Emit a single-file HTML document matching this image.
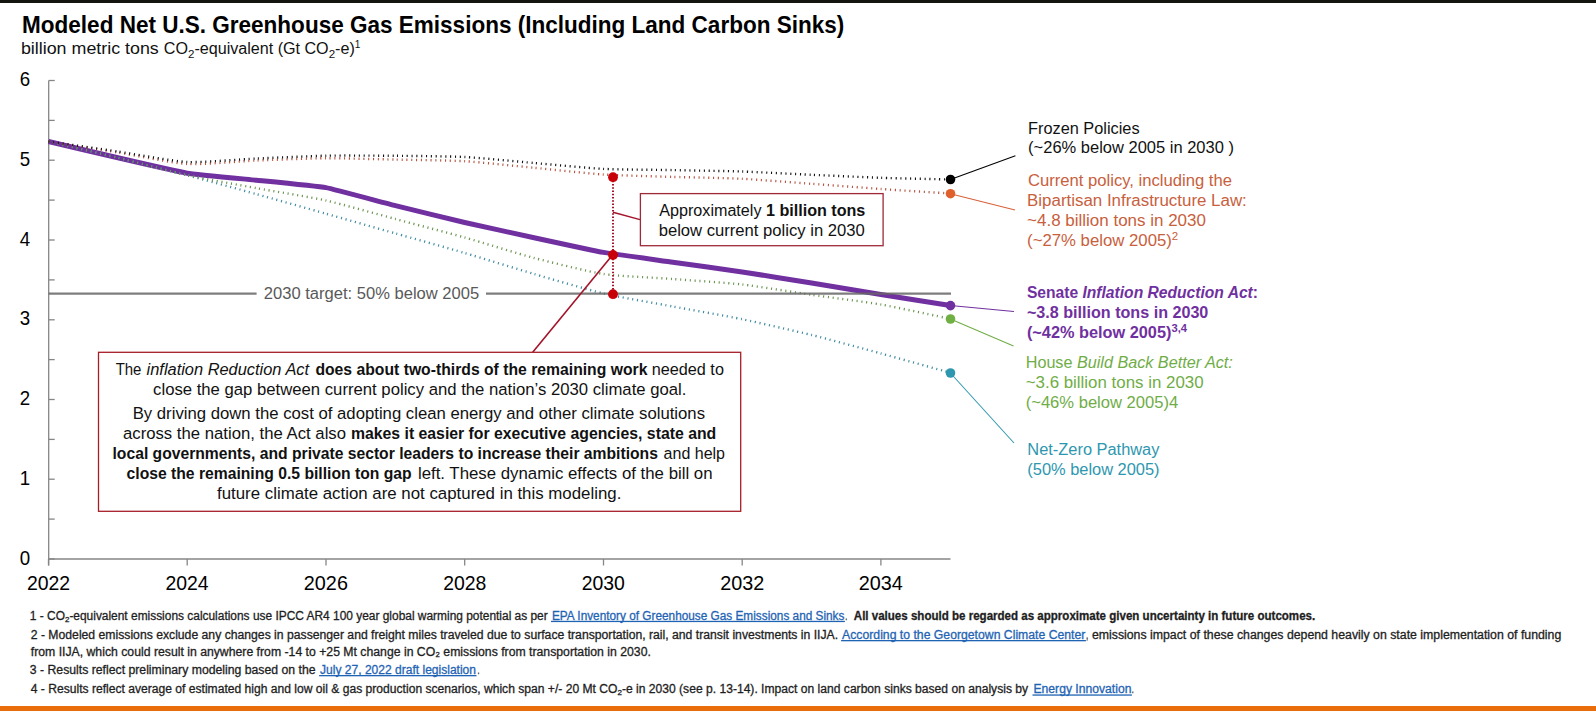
<!DOCTYPE html>
<html><head><meta charset="utf-8"><title>Modeled Net U.S. Greenhouse Gas Emissions</title>
<style>
html,body{margin:0;padding:0;background:#fff;}
body{width:1596px;height:711px;overflow:hidden;position:relative;}
svg{position:absolute;left:0;top:0;font-family:"Liberation Sans", Arial, sans-serif;}
.topbar{position:absolute;left:0;top:0;width:1596px;height:3px;background:#151510;}
.botbar{position:absolute;left:0;top:706px;width:1596px;height:5px;background:#ea6d0c;}
</style></head>
<body>
<div class="topbar"></div>
<svg width="1596" height="711" viewBox="0 0 1596 711">
<line x1="48.7" y1="80.5" x2="48.7" y2="565.5" stroke="#868686" stroke-width="1.3"/>
<line x1="48.2" y1="559" x2="950.5" y2="559" stroke="#868686" stroke-width="1.3"/>
<line x1="48.7" y1="559.0" x2="54.7" y2="559.0" stroke="#868686" stroke-width="1.3"/>
<line x1="48.7" y1="519.1" x2="54.7" y2="519.1" stroke="#868686" stroke-width="1.3"/>
<line x1="48.7" y1="479.2" x2="54.7" y2="479.2" stroke="#868686" stroke-width="1.3"/>
<line x1="48.7" y1="439.4" x2="54.7" y2="439.4" stroke="#868686" stroke-width="1.3"/>
<line x1="48.7" y1="399.5" x2="54.7" y2="399.5" stroke="#868686" stroke-width="1.3"/>
<line x1="48.7" y1="359.6" x2="54.7" y2="359.6" stroke="#868686" stroke-width="1.3"/>
<line x1="48.7" y1="319.8" x2="54.7" y2="319.8" stroke="#868686" stroke-width="1.3"/>
<line x1="48.7" y1="279.9" x2="54.7" y2="279.9" stroke="#868686" stroke-width="1.3"/>
<line x1="48.7" y1="240.0" x2="54.7" y2="240.0" stroke="#868686" stroke-width="1.3"/>
<line x1="48.7" y1="200.1" x2="54.7" y2="200.1" stroke="#868686" stroke-width="1.3"/>
<line x1="48.7" y1="160.2" x2="54.7" y2="160.2" stroke="#868686" stroke-width="1.3"/>
<line x1="48.7" y1="120.4" x2="54.7" y2="120.4" stroke="#868686" stroke-width="1.3"/>
<line x1="48.7" y1="80.5" x2="54.7" y2="80.5" stroke="#868686" stroke-width="1.3"/>
<line x1="48.5" y1="559" x2="48.5" y2="565.5" stroke="#868686" stroke-width="1.3"/>
<line x1="187.2" y1="559" x2="187.2" y2="565.5" stroke="#868686" stroke-width="1.3"/>
<line x1="326.0" y1="559" x2="326.0" y2="565.5" stroke="#868686" stroke-width="1.3"/>
<line x1="464.7" y1="559" x2="464.7" y2="565.5" stroke="#868686" stroke-width="1.3"/>
<line x1="603.5" y1="559" x2="603.5" y2="565.5" stroke="#868686" stroke-width="1.3"/>
<line x1="742.2" y1="559" x2="742.2" y2="565.5" stroke="#868686" stroke-width="1.3"/>
<line x1="880.9" y1="559" x2="880.9" y2="565.5" stroke="#868686" stroke-width="1.3"/>
<text x="25.0" y="564.6" text-anchor="middle" font-size="20.6" fill="#000" textLength="10.4" lengthAdjust="spacingAndGlyphs">0</text>
<text x="25.0" y="484.9" text-anchor="middle" font-size="20.6" fill="#000" textLength="10.4" lengthAdjust="spacingAndGlyphs">1</text>
<text x="25.0" y="405.1" text-anchor="middle" font-size="20.6" fill="#000" textLength="10.4" lengthAdjust="spacingAndGlyphs">2</text>
<text x="25.0" y="325.4" text-anchor="middle" font-size="20.6" fill="#000" textLength="10.4" lengthAdjust="spacingAndGlyphs">3</text>
<text x="25.0" y="245.6" text-anchor="middle" font-size="20.6" fill="#000" textLength="10.4" lengthAdjust="spacingAndGlyphs">4</text>
<text x="25.0" y="165.8" text-anchor="middle" font-size="20.6" fill="#000" textLength="10.4" lengthAdjust="spacingAndGlyphs">5</text>
<text x="25.0" y="86.1" text-anchor="middle" font-size="20.6" fill="#000" textLength="10.4" lengthAdjust="spacingAndGlyphs">6</text>
<text x="26.91" y="590.2" font-size="20.6" fill="#000" textLength="43.18" lengthAdjust="spacingAndGlyphs">2022</text>
<text x="165.4" y="590.2" font-size="20.6" fill="#000" textLength="43.18" lengthAdjust="spacingAndGlyphs">2024</text>
<text x="303.84" y="590.2" font-size="20.6" fill="#000" textLength="44.08" lengthAdjust="spacingAndGlyphs">2026</text>
<text x="443.23" y="590.2" font-size="20.6" fill="#000" textLength="43.18" lengthAdjust="spacingAndGlyphs">2028</text>
<text x="581.67" y="590.2" font-size="20.6" fill="#000" textLength="43.18" lengthAdjust="spacingAndGlyphs">2030</text>
<text x="720.16" y="590.2" font-size="20.6" fill="#000" textLength="44.08" lengthAdjust="spacingAndGlyphs">2032</text>
<text x="858.65" y="590.2" font-size="20.6" fill="#000" textLength="44.08" lengthAdjust="spacingAndGlyphs">2034</text>
<path d="M48.5,141.5 C52.0,142.3 110.9,156.2 117.9,157.8 C124.8,159.4 180.3,172.1 187.2,173.2 C194.2,174.3 249.7,179.5 256.6,180.2 C263.5,180.9 319.0,186.3 326.0,187.6 C332.9,188.9 388.4,203.9 395.4,205.6 C402.3,207.3 457.8,220.9 464.7,222.5 C471.7,224.1 527.2,236.2 534.1,237.7 C541.0,239.2 596.5,251.2 603.5,252.4 C610.4,253.6 665.9,261.2 672.8,262.2 C679.8,263.2 735.3,270.9 742.2,271.9 C749.1,272.9 804.6,281.9 811.6,283.0 C818.5,284.1 874.0,293.4 880.9,294.5 C887.9,295.6 946.8,304.9 950.3,305.5" fill="none" stroke="#7030a0" stroke-width="5" stroke-linejoin="round"/>
<path d="M48.5,141.5 C55.4,143.1 104.0,154.4 117.9,157.8 C131.7,161.2 173.4,171.6 187.2,175.2 C201.1,178.8 242.7,190.3 256.6,194.2 C270.5,198.0 312.1,209.8 326.0,213.7 C339.9,217.6 381.5,229.5 395.4,233.4 C409.2,237.3 450.8,248.9 464.7,253.0 C478.6,257.1 520.2,269.9 534.1,274.0 C548.0,278.1 589.6,290.2 603.5,293.5 C617.3,296.8 659.0,303.9 672.8,306.5 C686.7,309.1 728.3,316.3 742.2,319.2 C756.1,322.1 797.7,331.6 811.6,335.0 C825.4,338.4 867.1,349.7 880.9,353.5 C894.8,357.3 943.4,370.8 950.3,372.7" fill="none" stroke="#3d8aa0" stroke-width="2.4" stroke-dasharray="1.1 3.7"/>
<path d="M48.5,141.5 C55.4,143.1 104.0,154.4 117.9,157.8 C131.7,161.2 173.4,172.2 187.2,175.2 C201.1,178.2 242.7,185.7 256.6,188.2 C270.5,190.7 312.1,197.4 326.0,200.5 C339.9,203.6 381.5,215.3 395.4,219.0 C409.2,222.7 450.8,233.6 464.7,237.5 C478.6,241.4 520.2,254.3 534.1,258.0 C548.0,261.6 589.6,271.9 603.5,274.0 C617.3,276.1 659.0,277.9 672.8,279.0 C686.7,280.1 728.3,282.9 742.2,284.5 C756.1,286.1 797.7,292.8 811.6,294.8 C825.4,296.8 867.1,302.1 880.9,304.5 C894.8,306.9 943.4,317.4 950.3,318.8" fill="none" stroke="#6a9450" stroke-width="2.4" stroke-dasharray="1.1 3.7"/>
<path d="M48.5,141.5 C55.4,142.6 104.0,150.2 117.9,152.5 C131.7,154.8 173.4,163.2 187.2,164.0 C201.1,164.8 242.7,161.1 256.6,160.5 C270.5,159.9 312.1,158.3 326.0,158.2 C339.9,158.1 381.5,159.3 395.4,159.6 C409.2,159.9 450.8,160.4 464.7,161.2 C478.6,162.0 520.2,166.5 534.1,167.8 C548.0,169.1 589.6,173.6 603.5,174.5 C617.3,175.4 659.0,176.5 672.8,176.9 C686.7,177.3 728.3,178.1 742.2,178.8 C756.1,179.5 797.7,182.8 811.6,183.8 C825.4,184.8 867.1,188.0 880.9,189.0 C894.8,190.0 943.4,193.1 950.3,193.5" fill="none" stroke="#b5523f" stroke-width="2.4" stroke-dasharray="1.1 3.7"/>
<path d="M48.5,141.5 C55.4,142.5 104.0,149.4 117.9,151.5 C131.7,153.6 173.4,161.3 187.2,162.0 C201.1,162.7 242.7,159.1 256.6,158.5 C270.5,157.9 312.1,156.0 326.0,155.7 C339.9,155.4 381.5,155.7 395.4,155.8 C409.2,155.9 450.8,156.3 464.7,157.0 C478.6,157.7 520.2,161.8 534.1,163.0 C548.0,164.2 589.6,168.2 603.5,168.9 C617.3,169.6 659.0,169.8 672.8,170.1 C686.7,170.4 728.3,171.0 742.2,171.5 C756.1,172.0 797.7,174.2 811.6,174.8 C825.4,175.4 867.1,177.3 880.9,177.8 C894.8,178.3 943.4,179.3 950.3,179.5" fill="none" stroke="#111111" stroke-width="2.4" stroke-dasharray="1.1 3.7"/>
<line x1="48.7" y1="293.7" x2="256.6" y2="293.7" stroke="#666" stroke-opacity="0.85" stroke-width="2.2"/>
<line x1="486" y1="293.7" x2="951" y2="293.7" stroke="#666" stroke-opacity="0.85" stroke-width="2.2"/>
<text x="263.86" y="298.6" font-size="16" fill="#595959" textLength="215.28" lengthAdjust="spacingAndGlyphs">2030 target: 50% below 2005</text>
<line x1="950.4" y1="179.5" x2="1015.4" y2="155.7" stroke="#000000" stroke-width="1.05"/>
<line x1="950.4" y1="193.7" x2="1015.0" y2="210.0" stroke="#d9603a" stroke-width="1.05"/>
<line x1="950.4" y1="305.6" x2="1014.0" y2="311.5" stroke="#7030a0" stroke-width="1.05"/>
<line x1="950.4" y1="319.0" x2="1013.5" y2="346.0" stroke="#70ad47" stroke-width="1.05"/>
<line x1="950.4" y1="373.0" x2="1014.0" y2="443.0" stroke="#2e97b0" stroke-width="1.05"/>
<circle cx="950.5" cy="179.5" r="4.8" fill="#000000"/>
<circle cx="950.5" cy="193.7" r="4.8" fill="#e0602c"/>
<circle cx="950.5" cy="305.6" r="4.8" fill="#7030a0"/>
<circle cx="950.5" cy="319.0" r="4.8" fill="#70b043"/>
<circle cx="950.5" cy="373.0" r="4.8" fill="#2e97b0"/>
<line x1="613" y1="177.5" x2="613" y2="294.3" stroke="#a3142a" stroke-width="2" stroke-dasharray="1.6 1.65"/>
<line x1="613" y1="212.3" x2="640" y2="219.6" stroke="#a3142a" stroke-width="1.5"/>
<line x1="612.5" y1="255" x2="532.7" y2="352.3" stroke="#a3142a" stroke-width="1.6"/>
<circle cx="613" cy="177.2" r="4.9" fill="#c80008"/>
<circle cx="613" cy="255.0" r="4.9" fill="#c80008"/>
<circle cx="613" cy="294.2" r="4.9" fill="#c80008"/>
<rect x="640.4" y="193.6" width="242.7" height="52.1" fill="#fff" stroke="#9e2a38" stroke-width="1.3"/>
<rect x="98.5" y="352.3" width="642.2" height="159.0" fill="#fff" stroke="#a51e28" stroke-width="1.3"/>
<text x="659.34" y="215.7" font-size="16" fill="#111" textLength="206.0" lengthAdjust="spacingAndGlyphs">Approximately <tspan font-weight="bold">1 billion tons</tspan></text>
<text x="658.66" y="235.6" font-size="16" fill="#111" textLength="206.12" lengthAdjust="spacingAndGlyphs">below current policy in 2030</text>
<text x="115.66" y="374.9" font-size="16.3" fill="#111" textLength="25.76" lengthAdjust="spacingAndGlyphs">The</text>
<text x="146.58" y="374.9" font-size="16.3" fill="#111" textLength="162.52" lengthAdjust="spacingAndGlyphs" font-style="italic">inflation Reduction Act</text>
<text x="315.42" y="374.9" font-size="16.3" fill="#111" font-weight="bold" textLength="332.0" lengthAdjust="spacingAndGlyphs">does about two-thirds of the remaining work</text>
<text x="651.68" y="374.9" font-size="16.3" fill="#111" textLength="72.24" lengthAdjust="spacingAndGlyphs">needed to</text>
<text x="153.08" y="395.2" font-size="16.3" fill="#111" textLength="533.32" lengthAdjust="spacingAndGlyphs">close the gap between current policy and the nation’s 2030 climate goal.</text>
<text x="132.68" y="419.1" font-size="16.3" fill="#111" textLength="572.32" lengthAdjust="spacingAndGlyphs">By driving down the cost of adopting clean energy and other climate solutions</text>
<text x="123.0" y="439.4" font-size="16.3" fill="#111" textLength="223.0" lengthAdjust="spacingAndGlyphs">across the nation, the Act also</text>
<text x="350.92" y="439.4" font-size="16.3" fill="#111" font-weight="bold" textLength="365.32" lengthAdjust="spacingAndGlyphs">makes it easier for executive agencies, state and</text>
<text x="112.52" y="459.3" font-size="16.3" fill="#111" font-weight="bold" textLength="545.4" lengthAdjust="spacingAndGlyphs">local governments, and private sector leaders to increase their ambitions</text>
<text x="663.58" y="459.3" font-size="16.3" fill="#111" textLength="61.42" lengthAdjust="spacingAndGlyphs">and help</text>
<text x="126.58" y="479.4" font-size="16.3" fill="#111" font-weight="bold" textLength="285.0" lengthAdjust="spacingAndGlyphs">close the remaining 0.5 billion ton gap</text>
<text x="417.92" y="479.4" font-size="16.3" fill="#111" textLength="294.66" lengthAdjust="spacingAndGlyphs">left. These dynamic effects of the bill on</text>
<text x="217.0" y="499.2" font-size="16.3" fill="#111" textLength="404.32" lengthAdjust="spacingAndGlyphs">future climate action are not captured in this modeling.</text>
<text x="1028.1" y="133.6" font-size="16" fill="#111" textLength="111.46" lengthAdjust="spacingAndGlyphs">Frozen Policies</text>
<text x="1028.1" y="152.9" font-size="16" fill="#111" textLength="205.8" lengthAdjust="spacingAndGlyphs">(~26% below 2005 in 2030 )</text>
<text x="1028.0" y="186.2" font-size="16" fill="#c8603d" textLength="203.9" lengthAdjust="spacingAndGlyphs">Current policy, including the</text>
<text x="1027.1" y="206.0" font-size="16" fill="#c8603d" textLength="219.7" lengthAdjust="spacingAndGlyphs">Bipartisan Infrastructure Law:</text>
<text x="1027.1" y="225.9" font-size="16" fill="#c8603d" textLength="178.8" lengthAdjust="spacingAndGlyphs">~4.8 billion tons in 2030</text>
<text x="1027.1" y="245.5" font-size="16" fill="#c8603d" textLength="151.19" lengthAdjust="spacingAndGlyphs">(~27% below 2005)<tspan font-size="11" dy="-6">2</tspan></text>
<text x="1026.88" y="297.9" font-size="16" fill="#7030a0" textLength="231.14" lengthAdjust="spacingAndGlyphs"><tspan font-weight="bold">Senate </tspan><tspan font-weight="bold" font-style="italic">Inflation Reduction Act</tspan><tspan font-weight="bold">:</tspan></text>
<text x="1026.88" y="318.0" font-size="16" fill="#7030a0" textLength="181.46" lengthAdjust="spacingAndGlyphs"><tspan font-weight="bold">~3.8 billion tons in 2030</tspan></text>
<text x="1026.88" y="337.5" font-size="16" fill="#7030a0" textLength="160.12" lengthAdjust="spacingAndGlyphs"><tspan font-weight="bold">(~42% below 2005)</tspan><tspan font-weight="bold" font-size="11" dy="-6">3,4</tspan></text>
<text x="1025.71" y="367.5" font-size="16" fill="#70ad47" textLength="207.07" lengthAdjust="spacingAndGlyphs">House <tspan font-style="italic">Build Back Better Act:</tspan></text>
<text x="1025.71" y="387.6" font-size="16" fill="#70ad47" textLength="177.85" lengthAdjust="spacingAndGlyphs">~3.6 billion tons in 2030</text>
<text x="1025.71" y="407.8" font-size="16" fill="#70ad47" textLength="152.51" lengthAdjust="spacingAndGlyphs">(~46% below 2005)4</text>
<text x="1027.37" y="455.0" font-size="16" fill="#2e97b0" textLength="132.07" lengthAdjust="spacingAndGlyphs">Net-Zero Pathway</text>
<text x="1027.37" y="475.0" font-size="16" fill="#2e97b0" textLength="132.19" lengthAdjust="spacingAndGlyphs">(50% below 2005)</text>
<text x="22.05" y="32.6" font-size="24" fill="#000" font-weight="bold" textLength="822.24" lengthAdjust="spacingAndGlyphs">Modeled Net U.S. Greenhouse Gas Emissions (Including Land Carbon Sinks)</text>
<text x="20.91" y="53.7" font-size="16" fill="#111" textLength="137.9" lengthAdjust="spacingAndGlyphs">billion metric tons</text>
<text x="163.81" y="53.7" font-size="16" fill="#111" textLength="196.57" lengthAdjust="spacingAndGlyphs">CO<tspan font-size="11.5" dy="4">2</tspan><tspan dy="-4">-equivalent (Gt CO</tspan><tspan font-size="11.5" dy="4">2</tspan><tspan dy="-4">-e)</tspan><tspan font-size="10" dy="-6">1</tspan></text>
<text x="29.86" y="619.7" font-size="12" fill="#1e1e1e" textLength="517.88" lengthAdjust="spacingAndGlyphs" stroke="#1e1e1e" stroke-width="0.3" paint-order="stroke">1 - CO<tspan font-size="8" dy="2">2</tspan><tspan dy="-2">-equivalent emissions calculations use IPCC AR4 100 year global warming potential as per</tspan></text>
<text x="552.0" y="619.7" font-size="12" fill="#1f64b4" textLength="292.4" lengthAdjust="spacingAndGlyphs" stroke="#1f64b4" stroke-width="0.3" paint-order="stroke">EPA Inventory of Greenhouse Gas Emissions and Sinks</text>
<rect x="551.0" y="620.8" width="293.9" height="1.3" fill="#1f64b4"/>
<text x="845.2" y="619.7" font-size="12" fill="#1e1e1e" textLength="2.0" lengthAdjust="spacingAndGlyphs" stroke="#1e1e1e" stroke-width="0.3" paint-order="stroke">.</text>
<text x="853.8" y="619.7" font-size="12" fill="#1e1e1e" font-weight="bold" textLength="461.4" lengthAdjust="spacingAndGlyphs" stroke="#1e1e1e" stroke-width="0.3" paint-order="stroke">All values should be regarded as approximate given uncertainty in future outcomes.</text>
<text x="30.76" y="638.9" font-size="12" fill="#1e1e1e" textLength="807.38" lengthAdjust="spacingAndGlyphs" stroke="#1e1e1e" stroke-width="0.3" paint-order="stroke">2 - Modeled emissions exclude any changes in passenger and freight miles traveled due to surface transportation, rail, and transit investments in IIJA.</text>
<text x="842.1" y="638.9" font-size="12" fill="#1f64b4" textLength="243.3" lengthAdjust="spacingAndGlyphs" stroke="#1f64b4" stroke-width="0.3" paint-order="stroke">According to the Georgetown Climate Center</text>
<rect x="841.1" y="640.0" width="244.8" height="1.3" fill="#1f64b4"/>
<text x="1086.0" y="638.9" font-size="12" fill="#1e1e1e" textLength="2.2" lengthAdjust="spacingAndGlyphs" stroke="#1e1e1e" stroke-width="0.3" paint-order="stroke">,</text>
<text x="1091.9" y="638.9" font-size="12" fill="#1e1e1e" textLength="469.4" lengthAdjust="spacingAndGlyphs" stroke="#1e1e1e" stroke-width="0.3" paint-order="stroke">emissions impact of these changes depend heavily on state implementation of funding</text>
<text x="30.76" y="655.7" font-size="12" fill="#1e1e1e" textLength="620.12" lengthAdjust="spacingAndGlyphs" stroke="#1e1e1e" stroke-width="0.3" paint-order="stroke">from IIJA, which could result in anywhere from -14 to +25 Mt change in CO₂ emissions from transportation in 2030.</text>
<text x="29.86" y="673.9" font-size="12" fill="#1e1e1e" textLength="285.64" lengthAdjust="spacingAndGlyphs" stroke="#1e1e1e" stroke-width="0.3" paint-order="stroke">3 - Results reflect preliminary modeling based on the</text>
<text x="320.1" y="673.9" font-size="12" fill="#1f64b4" textLength="155.9" lengthAdjust="spacingAndGlyphs" stroke="#1f64b4" stroke-width="0.3" paint-order="stroke">July 27, 2022 draft legislation</text>
<rect x="319.1" y="675.0" width="157.4" height="1.3" fill="#1f64b4"/>
<text x="477.4" y="673.9" font-size="12" fill="#1e1e1e" textLength="2.0" lengthAdjust="spacingAndGlyphs" stroke="#1e1e1e" stroke-width="0.3" paint-order="stroke">.</text>
<text x="30.76" y="693.3" font-size="12" fill="#1e1e1e" textLength="997.34" lengthAdjust="spacingAndGlyphs" stroke="#1e1e1e" stroke-width="0.3" paint-order="stroke">4 - Results reflect average of estimated high and low oil &amp; gas production scenarios, which span +/- 20 Mt CO<tspan font-size="8" dy="2">2</tspan><tspan dy="-2">-e in 2030 (see p. 13-14).  Impact on land carbon sinks based on analysis by</tspan></text>
<text x="1033.5" y="693.3" font-size="12" fill="#1f64b4" textLength="97.9" lengthAdjust="spacingAndGlyphs" stroke="#1f64b4" stroke-width="0.3" paint-order="stroke">Energy Innovation</text>
<rect x="1032.5" y="694.4" width="99.4" height="1.3" fill="#1f64b4"/>
<text x="1131.8" y="693.3" font-size="12" fill="#1e1e1e" textLength="2.0" lengthAdjust="spacingAndGlyphs" stroke="#1e1e1e" stroke-width="0.3" paint-order="stroke">.</text>
</svg>
<div class="botbar"></div>
</body></html>
